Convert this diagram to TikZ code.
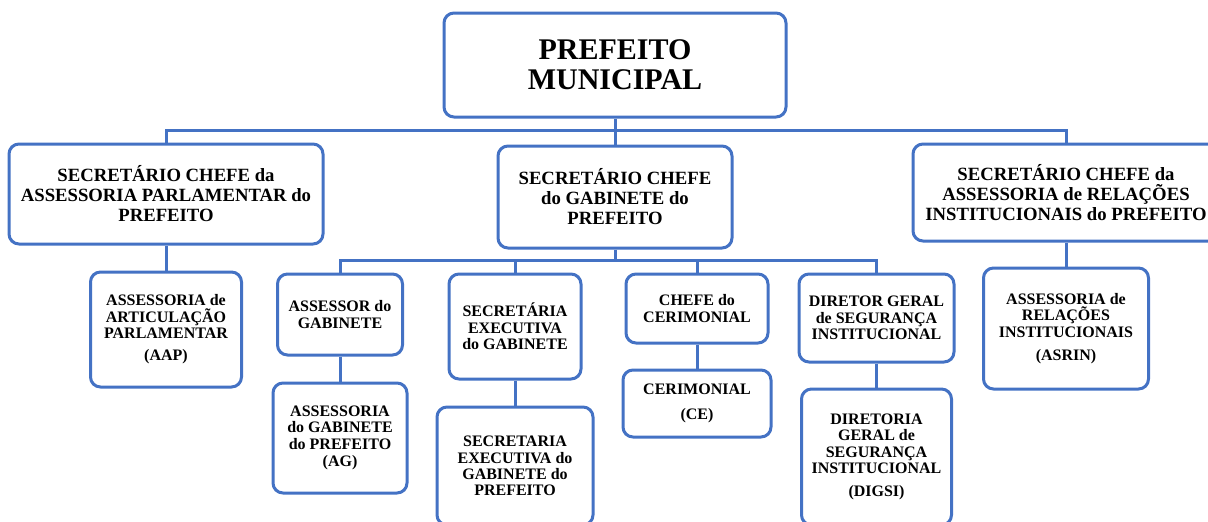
\documentclass[tikz,border=0pt]{standalone}
\usepackage{fontspec}
\setmainfont{Liberation Serif}
\definecolor{orgblue}{RGB}{68,114,196}
\begin{document}
\begin{tikzpicture}[x=1pt,y=-1pt,
  box/.style={draw=orgblue, line width=3pt, rounded corners=10pt, fill=white,
    inner sep=0pt, align=center, text=black},
  small/.style={box, font={\fontsize{16}{16.4}\selectfont\bfseries}},
  mid/.style={box, font={\fontsize{18.7}{20}\selectfont\bfseries}},
  big/.style={box, font={\fontsize{30}{30}\selectfont\bfseries}},
  link/.style={draw=orgblue, line width=3pt}]
\useasboundingbox (0,0) rectangle (1208,522);
\clip (0,0) rectangle (1208,522);

\node[big, minimum width=342pt, minimum height=104pt] (top) at (615,65) {PREFEITO\\MUNICIPAL};

\node[mid, minimum width=314pt, minimum height=100pt] (lm) at (166,194) {SECRETÁRIO CHEFE da\\ASSESSORIA PARLAMENTAR do\\PREFEITO};
\node[mid, minimum width=234pt, minimum height=102pt] (cm) at (615,197) {SECRETÁRIO CHEFE\\do GABINETE do\\PREFEITO};
\node[mid, minimum width=306pt, minimum height=97pt] (rm) at (1066,192.5) {SECRETÁRIO CHEFE da\\ASSESSORIA de RELAÇÕES\\INSTITUCIONAIS do PREFEITO};

\node[small, minimum width=151pt, minimum height=115pt] (aap) at (166,329.5) {ASSESSORIA de\\ARTICULAÇÃO\\PARLAMENTAR\\[6pt](AAP)};
\node[small, minimum width=125pt, minimum height=81pt] (agab) at (340,314.5) {ASSESSOR do\\GABINETE};
\node[small, minimum width=134pt, minimum height=110pt] (ag) at (340,438) {ASSESSORIA\\do GABINETE\\do PREFEITO\\[1pt](AG)};
\node[small, minimum width=132pt, minimum height=105pt] (seg) at (515,326.5) {SECRETÁRIA\\EXECUTIVA\\do GABINETE};
\node[small, minimum width=156pt, minimum height=118pt] (se) at (515,466) {SECRETARIA\\EXECUTIVA do\\GABINETE do\\PREFEITO};
\node[small, minimum width=142pt, minimum height=69pt] (cc) at (697,308.5) {CHEFE do\\CERIMONIAL};
\node[small, minimum width=148pt, minimum height=67pt] (ce) at (697,403.5) {CERIMONIAL\\[9pt](CE)};
\node[small, minimum width=155pt, minimum height=88pt] (dir) at (876.5,318) {DIRETOR GERAL\\de SEGURANÇA\\INSTITUCIONAL};
\node[small, minimum width=150pt, minimum height=136pt] (digsi) at (876.5,457) {DIRETORIA\\GERAL de\\SEGURANÇA\\INSTITUCIONAL\\[7pt](DIGSI)};
\node[small, minimum width=165pt, minimum height=121pt] (asrin) at (1066,328.5) {ASSESSORIA de\\RELAÇÕES\\INSTITUCIONAIS\\[7pt](ASRIN)};

\coordinate (t1) at (top.south |- 0,130);
\coordinate (s1) at (cm.south |- 0,260);

\path[link] (top.south) -- (cm.north);
\path[link] (lm.north) |- (t1) -| (rm.north);
\path[link] (cm.south) -- (s1);
\path[link] (agab.north) |- (s1) -| (dir.north);
\path[link] (s1) -| (seg.north);
\path[link] (s1) -| (cc.north);
\path[link] (lm.south) -- (aap.north);
\path[link] (rm.south) -- (asrin.north);
\path[link] (agab.south) -- (ag.north);
\path[link] (seg.south) -- (se.north);
\path[link] (cc.south) -- (ce.north);
\path[link] (dir.south) -- (digsi.north);
\end{tikzpicture}
\end{document}
